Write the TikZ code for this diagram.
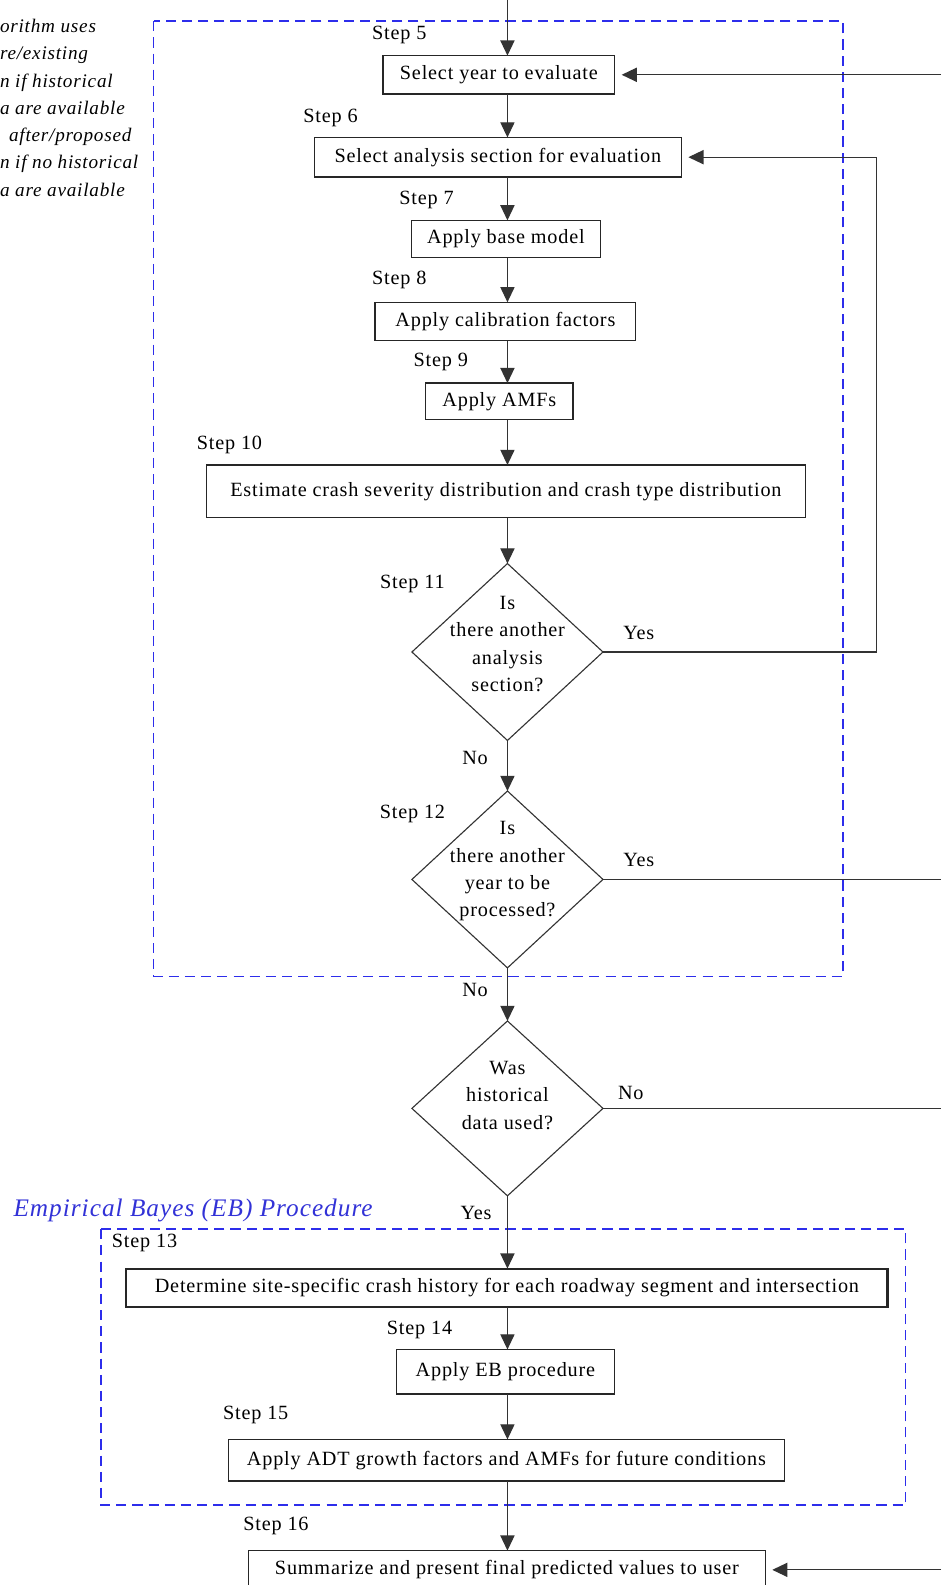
\documentclass[tikz,border=0pt]{standalone}
\usepackage{fontspec}
\setmainfont{Liberation Serif}[LetterSpace=4]
\usetikzlibrary{arrows.meta,shapes.geometric,calc}
\definecolor{dblue}{RGB}{45,45,235}
\definecolor{ebblue}{RGB}{50,50,215}
\begin{document}
\begin{tikzpicture}[x=1pt,y=-1pt,
  every node/.style={font=\fontsize{20}{27}\selectfont, inner sep=0pt, outer sep=0pt},
  box/.style={draw=black!85, line width=1.3pt, fill=white},
  dia/.style={diamond, draw=black!80, line width=1.1pt, minimum width=189, minimum height=175, fill=white},
  dtext/.style={align=center, yshift=8pt},
  line/.style={draw=black!80, line width=1.2pt},
  arr/.style={line, -{Triangle[length=15pt,width=14pt]}},
  lbl/.style={},
  bdash/.style={draw=dblue, line width=1.5pt, dash pattern=on 10pt off 6pt}
]
\clip (0,0) rectangle (931,1568);
\fill[white] (0,0) rectangle (931,1568);

% side note (cut off at the left edge)
\node[anchor=north west, align=left, font=\fontsize{19}{27}\itshape\selectfont] (note) at (0,19)
  {orithm uses\\re/existing\\n if historical\\a are available\\\hspace*{9pt}after/proposed\\n if no historical\\a are available};

% dashed groups
\draw[bdash] (152,21) rectangle (834,966);
\draw[bdash] (100,1216) rectangle (896,1489);
\node[font=\fontsize{25}{30}\itshape\selectfont, text=ebblue] (eb) at (191,1197) {Empirical Bayes (EB) Procedure};

% column and free ends
\coordinate (col) at (502,0);
\coordinate (top) at (502,0);
\coordinate (r5) at (931,74);
\coordinate (r11) at (867,645);
\coordinate (r12) at (931,870);
\coordinate (r13) at (931,1096.5);
\coordinate (r16) at (931,1553);

% boxes
\node[box, minimum width=229, minimum height=38] (b5) at (493.5,74) {Select year to evaluate};
\node[box, minimum width=363, minimum height=39] (b6) at (492.5,155.5) {Select analysis section for evaluation};
\node[box, minimum width=187, minimum height=37] (b7) at (500.5,236.5) {Apply base model};
\node[box, minimum width=258, minimum height=38] (b8) at (500,318) {Apply calibration factors};
\node[box, minimum width=146, minimum height=36] (b9) at (494,397) {Apply AMFs};
\node[box, minimum width=593, minimum height=52] (b10) at (500.5,486) {Estimate crash severity distribution and crash type distribution};

\node[dia, label={[dtext]center:{Is\\there another\\analysis\\section?}}] (d11) at (502,645) {};
\node[dia, label={[dtext]center:{Is\\there another\\year to be\\processed?}}] (d12) at (502,870) {};
\node[dia, minimum height=173, label={[dtext, yshift=5pt]center:{Was\\historical\\data used?}}] (d13) at (502,1096.5) {};

\node[box, line width=2.2pt, minimum width=753, minimum height=38] (b13) at (501.5,1274) {Determine site-specific crash history for each roadway segment and intersection};
\node[box, minimum width=216, minimum height=44] (b14) at (500,1357) {Apply EB procedure};
\node[box, minimum width=550, minimum height=41] (b15) at (501,1444.5) {Apply ADT growth factors and AMFs for future conditions};
\node[box, minimum width=511, minimum height=38] (b16) at (501.5,1553) {Summarize and present final predicted values to user};

% step labels
\node[lbl] (s5) at (395,35) {Step 5};
\node[lbl] (s6) at (327,117) {Step 6};
\node[lbl] (s7) at (422,198) {Step 7};
\node[lbl] (s8) at (395,277) {Step 8};
\node[lbl] (s9) at (436,358) {Step 9};
\node[lbl] (s10) at (227,440) {Step 10};
\node[lbl] (s11) at (408,578) {Step 11};
\node[lbl] (s12) at (408,805) {Step 12};
\node[lbl] (s13) at (143,1230) {Step 13};
\node[lbl] (s14) at (415,1316) {Step 14};
\node[lbl] (s15) at (253,1400) {Step 15};
\node[lbl] (s16) at (273,1510) {Step 16};

% yes / no labels
\node (y11) at (632,626) {Yes};
\node (n11) at (470,750) {No};
\node (y12) at (632,851) {Yes};
\node (n12) at (470,979) {No};
\node (n13) at (624,1081) {No};
\node (y13) at (471,1200) {Yes};

% main flow
\draw[arr] (top) -- (b5.north -| col);
\draw[arr] (b5.south -| col) -- (b6.north -| col);
\draw[arr] (b6.south -| col) -- (b7.north -| col);
\draw[arr] (b7.south -| col) -- (b8.north -| col);
\draw[arr] (b8.south -| col) -- (b9.north -| col);
\draw[arr] (b9.south -| col) -- (b10.north -| col);
\draw[arr] (b10.south -| col) -- (d11.north);
\draw[arr] (d11.south) -- (d12.north);
\draw[arr] (d12.south) -- (d13.north);
\draw[arr] (d13.south) -- (b13.north -| col);
\draw[arr] (b13.south -| col) -- (b14.north -| col);
\draw[arr] (b14.south -| col) -- (b15.north -| col);
\draw[arr] (b15.south -| col) -- (b16.north -| col);

% loops and side connectors
\draw[arr] (r5) -- ([xshift=7pt]b5.east);
\draw[arr] (d11.east) -- (r11) |- ([xshift=7pt]b6.east);
\draw[line] (d12.east) -- (r12);
\draw[line] (d13.east) -- (r13);
\draw[arr] (r16) -- ([xshift=7pt]b16.east);
\end{tikzpicture}
\end{document}
